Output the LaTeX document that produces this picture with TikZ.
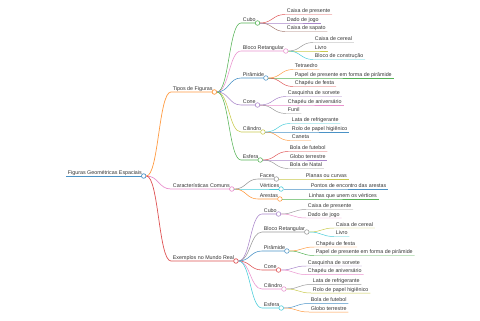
\documentclass[tikz,border=0pt]{standalone}
\usepackage{fontspec}
\setmainfont{Liberation Sans}
\usepackage{xcolor}
\usepackage{tikz}
\usetikzlibrary{calc}
\definecolor{mblue}{HTML}{4A92C6}
\definecolor{morange}{HTML}{FF9A40}
\definecolor{mgreen}{HTML}{56B356}
\definecolor{mred}{HTML}{DE5253}
\definecolor{mpurple}{HTML}{A985CA}
\definecolor{mbrown}{HTML}{A3786F}
\definecolor{mpink}{HTML}{E992CE}
\definecolor{mgray}{HTML}{999999}
\definecolor{molive}{HTML}{C9CA4E}
\definecolor{mcyan}{HTML}{45CBD9}
\definecolor{mtext}{HTML}{333333}
\tikzstyle{topic} = [anchor=south west, inner xsep=2.5pt, inner ysep=0.7pt, text height=5.4pt, text depth=1.5pt, text=mtext, font=\fontsize{7.6}{8}\selectfont]
\tikzstyle{knob} = [circle, draw, inner sep=0pt, minimum size=6.5pt]
\tikzstyle{lvl0} = [line width=1.3pt]
\tikzstyle{lvl1} = [line width=1pt]
\tikzstyle{lvl2} = [line width=0.8pt]
\tikzstyle{lvl3} = [line width=0.7pt]
% name, parent knob, colour, x, y, text
\newcommand{\leafnode}[6]{%
  \node[topic] (#1) at (#4,#5) {#6};
  \coordinate (#1m) at ($(#2.east)!0.5!(#1.south west)$);
  \draw[#3] (#2.east) .. controls (#1m |- #2.east) and (#1m |- #1.south west) .. (#1.south west) -- (#1.south east);
}
\newcommand{\branchnode}[6]{%
  \leafnode{#1}{#2}{#3}{#4}{#5}{#6}
  \node[knob, #3, fill=white] (#1k) at (#1.south east) {};
}

\begin{document}
\begin{tikzpicture}[x=0.5mm, y=-0.5mm]
    \useasboundingbox (0,0) rectangle (480,320);
    \node[topic] (root) at (66,176) {Figuras Geométricas Espaciais};
    \draw[mblue, lvl0] (root.south west) -- (root.south east);
    \node[knob, mblue, lvl1, fill=white] (rootk) at (root.south east) {};

    \branchnode{tipos}{rootk}{morange,lvl1}{171}{92}{Tipos de Figuras}
    \branchnode{caract}{rootk}{mpink,lvl1}{171}{189}{Características Comuns}
    \branchnode{exem}{rootk}{mred,lvl1}{171}{261}{Exemplos no Mundo Real}

    % tipos de figuras
    \branchnode{tcubo}{tiposk}{mgreen,lvl2}{241}{23}{Cubo}
    \branchnode{tbloco}{tiposk}{mpink,lvl2}{241}{51}{Bloco Retangular}
    \branchnode{tpir}{tiposk}{mblue,lvl2}{241}{78}{Pirâmide}
    \branchnode{tcone}{tiposk}{mpurple,lvl2}{241}{105}{Cone}
    \branchnode{tcil}{tiposk}{molive,lvl2}{241}{132}{Cilindro}
    \branchnode{tesf}{tiposk}{mgreen,lvl2}{241}{160}{Esfera}

    \leafnode{tcubo1}{tcubok}{mred,lvl3}{285}{14.5}{Caixa de presente}
    \leafnode{tcubo2}{tcubok}{mpurple,lvl3}{285}{23}{Dado de jogo}
    \leafnode{tcubo3}{tcubok}{mbrown,lvl3}{285}{31.5}{Caixa de sapato}
    \leafnode{tbloco1}{tblocok}{mgray,lvl3}{313}{42.5}{Caixa de cereal}
    \leafnode{tbloco2}{tblocok}{molive,lvl3}{313}{51}{Livro}
    \leafnode{tbloco3}{tblocok}{mcyan,lvl3}{313}{59.5}{Bloco de construção}
    \leafnode{tpir1}{tpirk}{morange,lvl3}{293}{69.5}{Tetraedro}
    \leafnode{tpir2}{tpirk}{mgreen,lvl3}{293}{78}{Papel de presente em forma de pirâmide}
    \leafnode{tpir3}{tpirk}{mred,lvl3}{293}{86.5}{Chapéu de festa}
    \leafnode{tcone1}{tconek}{mpurple,lvl3}{286}{96.5}{Casquinha de sorvete}
    \leafnode{tcone2}{tconek}{mpink,lvl3}{286}{105}{Chapéu de aniversário}
    \leafnode{tcone3}{tconek}{mgray,lvl3}{286}{113.5}{Funil}
    \leafnode{tcil1}{tcilk}{mcyan,lvl3}{290}{123.5}{Lata de refrigerante}
    \leafnode{tcil2}{tcilk}{mblue,lvl3}{290}{132}{Rolo de papel higiênico}
    \leafnode{tcil3}{tcilk}{morange,lvl3}{290}{140.5}{Caneta}
    \leafnode{tesf1}{tesfk}{mred,lvl3}{288}{151.5}{Bola de futebol}
    \leafnode{tesf2}{tesfk}{mpurple,lvl3}{288}{160}{Globo terrestre}
    \leafnode{tesf3}{tesfk}{mgray,lvl3}{288}{168.5}{Bola de Natal}

    % caracteristicas comuns
    \branchnode{faces}{caractk}{mgray,lvl2}{258}{179}{Faces}
    \branchnode{vert}{caractk}{mcyan,lvl2}{258}{189}{Vértices}
    \branchnode{arest}{caractk}{morange,lvl2}{258}{199}{Arestas}
    \leafnode{faces1}{facesk}{molive,lvl3}{304}{179}{Planas ou curvas}
    \leafnode{vert1}{vertk}{mblue,lvl3}{309}{189}{Pontos de encontro das arestas}
    \leafnode{arest1}{arestk}{mgreen,lvl3}{307}{199}{Linhas que unem os vértices}

    % exemplos no mundo real
    \branchnode{ecubo}{exemk}{mpurple,lvl2}{262}{214}{Cubo}
    \branchnode{ebloco}{exemk}{mgray,lvl2}{262}{232}{Bloco Retangular}
    \branchnode{epir}{exemk}{mblue,lvl2}{262}{251}{Pirâmide}
    \branchnode{econe}{exemk}{mred,lvl2}{262}{270}{Cone}
    \branchnode{ecil}{exemk}{mpink,lvl2}{262}{289}{Cilindro}
    \branchnode{eesf}{exemk}{mcyan,lvl2}{262}{308}{Esfera}

    \leafnode{ecubo1}{ecubok}{mgray,lvl3}{306}{209.5}{Caixa de presente}
    \leafnode{ecubo2}{ecubok}{mpink,lvl3}{306}{218}{Dado de jogo}
    \leafnode{ebloco1}{eblocok}{molive,lvl3}{334}{228}{Caixa de cereal}
    \leafnode{ebloco2}{eblocok}{mcyan,lvl3}{334}{236.5}{Livro}
    \leafnode{epir1}{epirk}{morange,lvl3}{314}{247}{Chapéu de festa}
    \leafnode{epir2}{epirk}{mgreen,lvl3}{314}{255.5}{Papel de presente em forma de pirâmide}
    \leafnode{econe1}{econek}{mpurple,lvl3}{306}{266}{Casquinha de sorvete}
    \leafnode{econe2}{econek}{mpink,lvl3}{306}{274.5}{Chapéu de aniversário}
    \leafnode{ecil1}{ecilk}{mgray,lvl3}{311}{284.5}{Lata de refrigerante}
    \leafnode{ecil2}{ecilk}{molive,lvl3}{311}{293}{Rolo de papel higiênico}
    \leafnode{eesf1}{eesfk}{mblue,lvl3}{309}{303.5}{Bola de futebol}
    \leafnode{eesf2}{eesfk}{morange,lvl3}{309}{312}{Globo terrestre}
\end{tikzpicture}
\end{document}
